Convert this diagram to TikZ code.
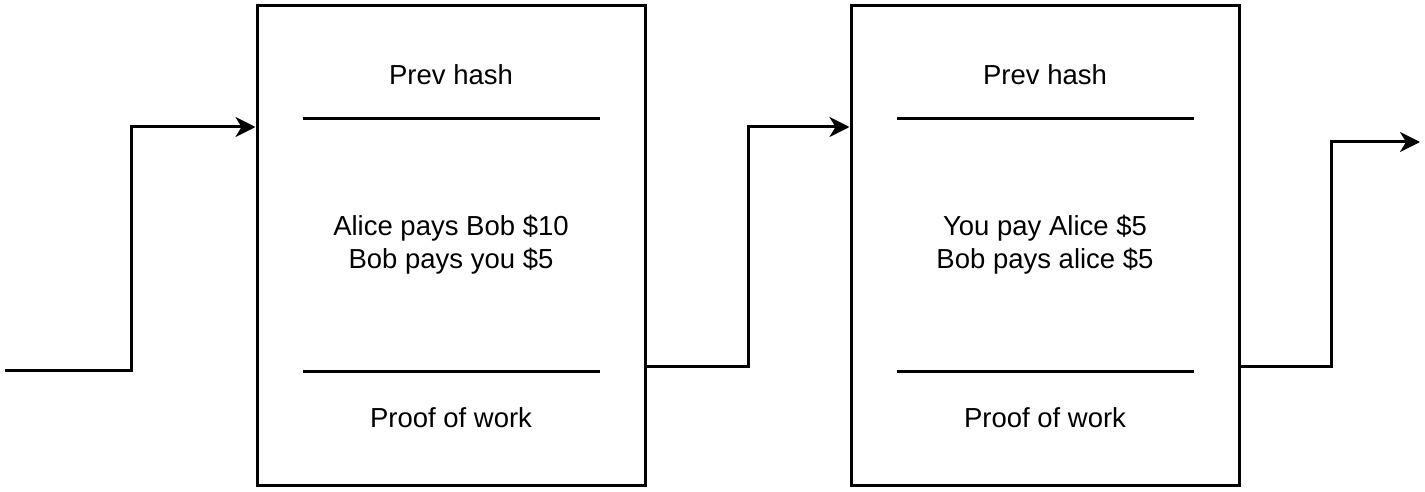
\documentclass[tikz,border=0pt]{standalone}
\usepackage{fontspec}
\setmainfont{Liberation Sans}
\usetikzlibrary{arrows.meta}

\tikzset{
  block/.style={draw, line width=3pt, minimum width=388pt, minimum height=479pt, inner sep=0pt},
  divider/.style={line width=3pt},
  link/.style={line width=3pt, -{Stealth[length=20pt,width=20pt,inset=6pt]}},
  label/.style={font=\fontsize{27.5}{33}\selectfont, align=center}
}

\begin{document}
\begin{tikzpicture}[x=1pt,y=1pt]
  \useasboundingbox (0,0) rectangle (1425,491);

  % Blocks
  \node[block] (blk1) at (451,245.5) {};
  \node[block] (blk2) at (1045,245.5) {};

  % Dividers inside the blocks
  \draw[divider] ([shift={(-148.5,126.5)}]blk1.center) -- ++(297,0);
  \draw[divider] ([shift={(-148.5,-125.5)}]blk1.center) -- ++(297,0);
  \draw[divider] ([shift={(-148.5,126.5)}]blk2.center) -- ++(297,0);
  \draw[divider] ([shift={(-148.5,-125.5)}]blk2.center) -- ++(297,0);

  % Texts of block 1
  \node[label] (prev1) at ([yshift=170.5pt]blk1.center) {Prev hash};
  \node[label] (tx1) at ([yshift=1pt]blk1.center) {Alice pays Bob \$10\\Bob pays you \$5};
  \node[label] (pow1) at ([yshift=-172.5pt]blk1.center) {Proof of work};

  % Texts of block 2
  \node[label] (prev2) at ([yshift=170.5pt]blk2.center) {Prev hash};
  \node[label] (tx2) at ([yshift=1pt]blk2.center) {You pay Alice \$5\\Bob pays alice \$5};
  \node[label] (pow2) at ([yshift=-172.5pt]blk2.center) {Proof of work};

  % Chain links
  \coordinate (src) at (5,121);
  \coordinate (dst) at (1420,349);
  \draw[link] (src) -- ++(126,0) |- ([yshift=118.5pt]blk1.west);
  \draw[link] ([yshift=-120.5pt]blk1.east) -- ++(102,0) |- ([yshift=118.5pt]blk2.west);
  \draw[link] ([yshift=-120.5pt]blk2.east) -- ++(91,0) |- (dst);
\end{tikzpicture}
\end{document}
